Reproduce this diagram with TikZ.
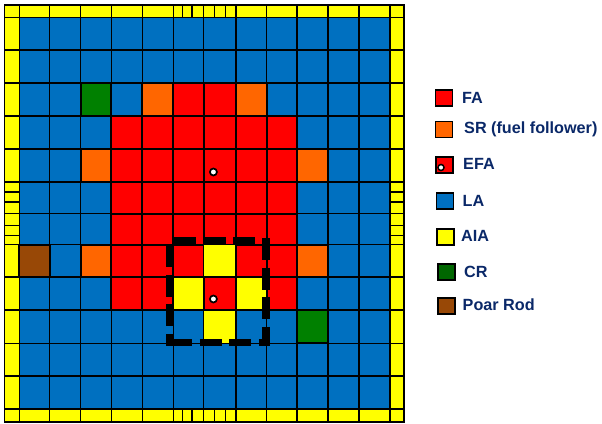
\documentclass[tikz,border=0pt]{standalone}
\usepackage{fontspec}
\setmainfont{Liberation Sans}
\definecolor{cblue}{HTML}{0070C0}
\definecolor{cred}{HTML}{FF0000}
\definecolor{corange}{HTML}{FF6600}
\definecolor{cyel}{HTML}{FFFF00}
\definecolor{cgreen}{HTML}{008000}
\definecolor{cdkgreen}{HTML}{006600}
\definecolor{cbrown}{HTML}{984806}
\definecolor{cnavy}{HTML}{0A2868}
\tikzset{
  gridline/.style={draw=black,line width=1.25pt},
  cellbox/.style={draw=black,line width=2pt},
  swatch/.style={draw=black,line width=1.6pt,minimum width=17pt,minimum height=16pt,inner sep=0pt,anchor=north west},
  lab/.style={text=cnavy,font=\bfseries\fontsize{16.2}{18}\selectfont,anchor=west,inner sep=0pt},
  fuelhole/.style={circle,draw=black,fill=white,line width=1.7pt,minimum size=7pt,inner sep=0pt},
  dashbox/.style={draw=black,line width=7.5pt,dash pattern=on 22pt off 7.6pt}
}
\def\xlist{{19.3,49.7,80.5,111.3,142.3,173.3,203.5,236,266.5,297,328,359,390}}
\def\ylist{{17.5,50,83,116,149,182,213.5,244.5,277,310,343.3,376,409}}
\newcommand{\cellcoords}[2]{%
  \pgfmathsetmacro{\xa}{\xlist[#1]}\pgfmathsetmacro{\xb}{\xlist[#1+1]}%
  \pgfmathsetmacro{\ya}{\ylist[#2]}\pgfmathsetmacro{\yb}{\ylist[#2+1]}%
}
\begin{document}
\begin{tikzpicture}[x=1pt,y=-1pt]
\useasboundingbox (0,0) rectangle (602,423);
% yellow frame and blue field
\fill[cyel] (4.5,5) rectangle (404,422);
\fill[cblue] (19.3,17.5) rectangle (390,409);
% grid
\foreach \i in {0,...,12}{
  \pgfmathsetmacro{\xx}{\xlist[\i]}
  \draw[gridline] (\xx,5) -- (\xx,422);
  \pgfmathsetmacro{\yy}{\ylist[\i]}
  \draw[gridline] (4.5,\yy) -- (404,\yy);
}
% subdivided edge ticks
\foreach \xx in {182.7,192,214.7,225.3}{
  \draw[gridline] (\xx,5) -- (\xx,17.5);
  \draw[gridline] (\xx,409) -- (\xx,422);
}
\foreach \yy in {192,202,225.4,235.2}{
  \draw[gridline] (4.5,\yy) -- (19.3,\yy);
  \draw[gridline] (390,\yy) -- (404,\yy);
}
\draw[draw=black,line width=1.4pt] (4.5,5) rectangle (404,422);
% coloured assemblies
\foreach \c/\r/\k in {5/2/cred,6/2/cred,
  3/3/cred,4/3/cred,5/3/cred,6/3/cred,7/3/cred,8/3/cred,
  3/4/cred,4/4/cred,5/4/cred,6/4/cred,7/4/cred,8/4/cred,
  3/5/cred,4/5/cred,5/5/cred,6/5/cred,7/5/cred,8/5/cred,
  3/6/cred,4/6/cred,5/6/cred,6/6/cred,7/6/cred,8/6/cred,
  3/7/cred,4/7/cred,5/7/cred,7/7/cred,8/7/cred,
  3/8/cred,4/8/cred,6/8/cred,8/8/cred,
  4/2/corange,7/2/corange,2/4/corange,9/4/corange,2/7/corange,9/7/corange,
  2/2/cgreen,9/9/cgreen,0/7/cbrown}{%
  \cellcoords{\c}{\r}
  \draw[cellbox,fill=\k] (\xa,\ya) rectangle (\xb,\yb);
}
\foreach \c/\r in {6/7,5/8,7/8,6/9}{%
  \cellcoords{\c}{\r}
  \draw[gridline,line width=1.6pt,fill=cyel] (\xa,\ya) rectangle (\xb,\yb);
}
% test positions
\node[fuelhole] (hole1) at (213.4,172) {};
\node[fuelhole] (hole2) at (213.4,299) {};
% dashed region
\draw[dashbox] (174,240.7) -- (260,240.7);
\draw[dashbox] (266,238) -- (266,345.5);
\draw[dashbox] (170,342.3) -- (269,342.3);
\draw[dashbox] (169.3,245) -- (169.3,345.5);
% legend
\node[swatch,fill=cred] (sFA) at (434.5,89) {};
\node[lab] (tFA) at (462,98) {FA};
\node[swatch,fill=corange] (sSR) at (434.5,120.5) {};
\node[lab] (tSR) at (464,129.5) {SR (fuel follower)};
\node[swatch,fill=cred] (sEFA) at (435,156) {};
\node[fuelhole,minimum size=6pt,line width=1.5pt] (hEFA) at (441,167.5) {};
\node[lab] (tEFA) at (463,164) {EFA};
\node[swatch,fill=cblue] (sLA) at (435.5,192) {};
\node[lab] (tLA) at (462.5,201) {LA};
\node[swatch,fill=cyel] (sAIA) at (436,228) {};
\node[lab] (tAIA) at (461,235.5) {AIA};
\node[swatch,fill=cdkgreen] (sCR) at (437,263) {};
\node[lab] (tCR) at (464,272) {CR};
\node[swatch,fill=cbrown] (sPR) at (437,297) {};
\node[lab] (tPR) at (462.5,304.5) {Poar Rod};
\end{tikzpicture}
\end{document}
